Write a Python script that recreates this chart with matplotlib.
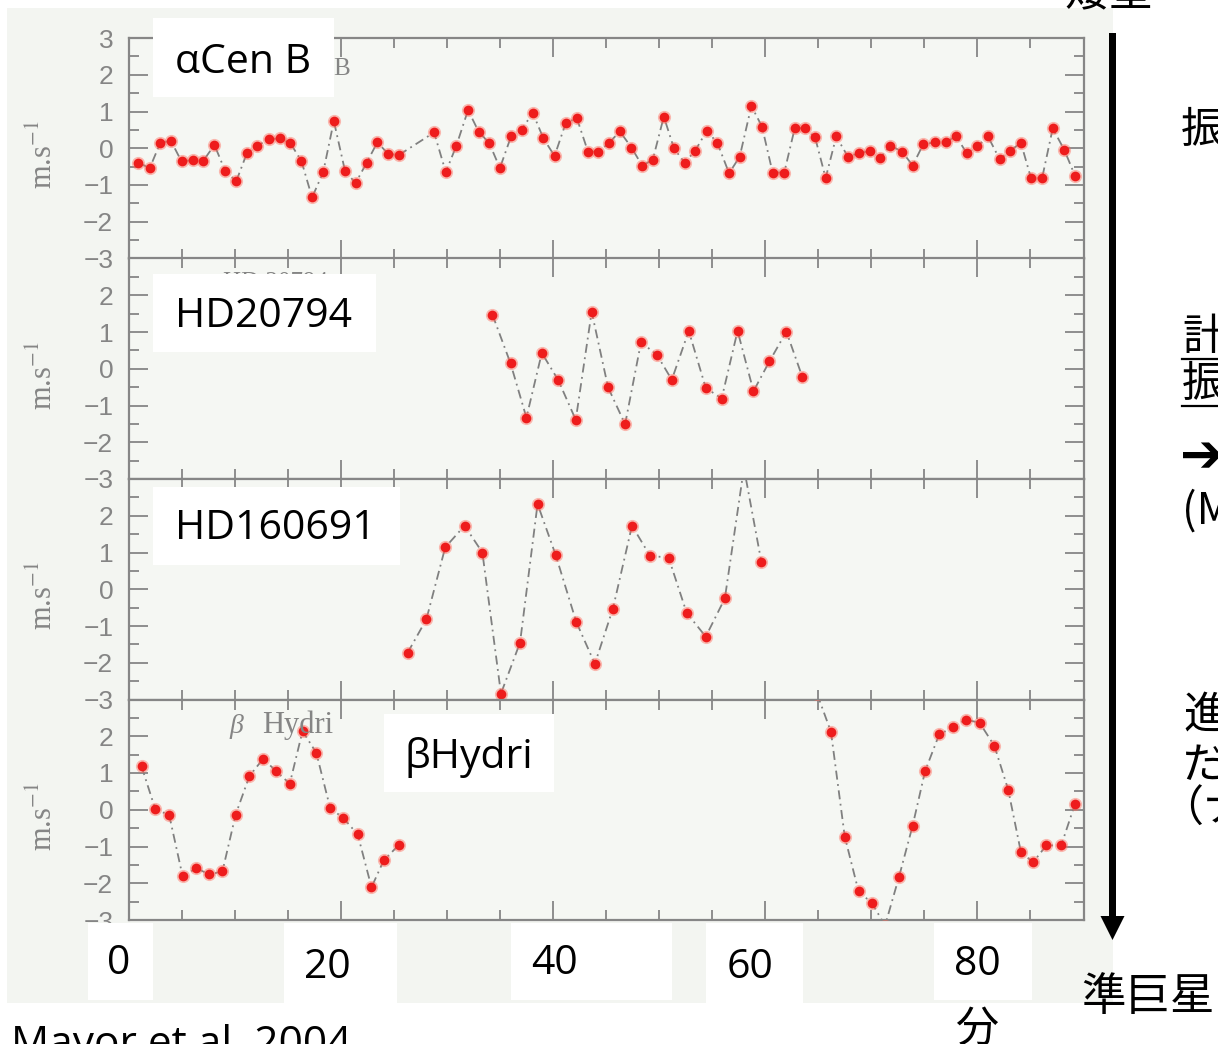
import numpy as np
import matplotlib
matplotlib.use("Agg")
import matplotlib.pyplot as plt
from matplotlib.patches import Rectangle, Polygon
from matplotlib.ticker import MultipleLocator, FixedLocator, FixedFormatter

plt.rcParams["mathtext.fontset"] = "stix"

# ---- radial-velocity time series (minutes, m/s) ----
acen_t = [0.9, 2.0, 3.0, 4.0, 5.0, 6.05, 7.05, 8.1, 9.1, 10.15,
          11.15, 12.15, 13.2, 14.25, 15.25, 16.3, 17.3, 18.35, 19.35, 20.4,
          21.4, 22.45, 23.45, 24.5, 25.5,
          28.8, 29.9, 30.9, 32.0, 33.0, 34.0, 35.0, 36.05, 37.05, 38.1,
          39.1, 40.15, 41.2, 42.25, 43.3, 44.25, 45.25, 46.3, 47.4, 48.4,
          49.4, 50.45, 51.4, 52.4, 53.4, 54.5, 55.5, 56.6, 57.6, 58.7,
          59.7, 60.7, 61.8, 62.8, 63.75, 64.7, 65.7, 66.7, 67.8, 68.8,
          69.9, 70.8, 71.8, 72.9, 73.9, 74.9, 76.0, 77.0, 78.0, 79.0,
          80.0, 81.0, 82.1, 83.1, 84.1, 85.05, 86.1, 87.1, 88.2, 89.2]
acen_v = [-0.39, -0.54, 0.15, 0.20, -0.36, -0.32, -0.34, 0.09, -0.61, -0.90,
          -0.14, 0.07, 0.24, 0.27, 0.14, -0.35, -1.34, -0.65, 0.74, -0.61,
          -0.95, -0.39, 0.16, -0.16, -0.18,
          0.43, -0.65, 0.07, 1.04, 0.45, 0.14, -0.54, 0.32, 0.51, 0.96,
          0.27, -0.21, 0.68, 0.82, -0.09, -0.09, 0.13, 0.46, 0.02, -0.47,
          -0.32, 0.86, 0.0, -0.39, -0.07, 0.48, 0.14, -0.68, -0.23, 1.15,
          0.59, -0.66, -0.66, 0.56, 0.54, 0.30, -0.81, 0.32, -0.23, -0.14,
          -0.07, -0.27, 0.07, -0.09, -0.47, 0.11, 0.16, 0.16, 0.33, -0.14,
          0.05, 0.32, -0.30, -0.07, 0.15, -0.81, -0.81, 0.54, -0.05, -0.75]

hd20794_t = [34.3, 36.0, 37.5, 38.95, 40.5, 42.15, 43.65, 45.2, 46.8, 48.3,
             49.8, 51.2, 52.8, 54.4, 55.9, 57.4, 58.9, 60.4, 62.0, 63.5]
hd20794_v = [1.47, 0.15, -1.33, 0.43, -0.31, -1.39, 1.55, -0.51, -1.51, 0.72,
             0.38, -0.30, 1.03, -0.52, -0.81, 1.03, -0.61, 0.20, 1.01, -0.22]

hd160691_t = [26.3, 28.07, 29.85, 31.67, 33.35, 35.1, 36.9, 38.55, 40.26, 42.2,
              43.95, 45.65, 47.45, 49.15, 50.9, 52.6, 54.4, 56.2, 58.0, 59.65]
hd160691_v = [-1.73, -0.82, 1.14, 1.73, 1.0, -2.84, -1.45, 2.32, 0.93, -0.89,
              -2.03, -0.53, 1.73, 0.91, 0.86, -0.64, -1.29, -0.25, 3.3, 0.73]

bhyd_t = [1.23, 2.53, 3.83, 5.1, 6.4, 7.6, 8.85, 10.1, 11.4, 12.7,
          13.9, 15.2, 16.4, 17.7, 19.0, 20.25, 21.6, 22.9, 24.05, 25.5,
          64.9, 66.2, 67.5, 68.8, 70.06, 71.3, 72.6, 73.9, 75.07, 76.4,
          77.7, 78.9, 80.2, 81.6, 82.9, 84.1, 85.25, 86.5, 87.9, 89.2]
bhyd_v = [1.18, 0.01, -0.14, -1.81, -1.59, -1.76, -1.68, -0.13, 0.92, 1.39,
          1.05, 0.71, 2.14, 1.55, 0.05, -0.23, -0.67, -2.11, -1.38, -0.95,
          3.15, 2.12, -0.73, -2.22, -2.54, -3.15, -1.84, -0.43, 1.05, 2.05,
          2.24, 2.45, 2.37, 1.74, 0.55, -1.15, -1.43, -0.97, -0.97, 0.16]

star_names = ["αCen B", "HD20794", "HD160691", "βHydri"]
catalog_names = ["α Cen B", "HD 20794", None, "Hydri"]
x_tick_labels = ["0", "20", "40", "60", "80"]

series = [(acen_t, acen_v), (hd20794_t, hd20794_v),
          (hd160691_t, hd160691_v), (bhyd_t, bhyd_v)]

# ---- styling ----
W, H = 1218, 1044
BG = "#f3f5f1"
AX_BG = "#f5f7f3"
GRAY = "#868686"
GRAY_TXT = "#858585"
LATIN = ["Open Sans", "DejaVu Sans"]
CJK = ["Noto Sans CJK JP", "DejaVu Sans"]

fig = plt.figure(figsize=(W / 100, H / 100), dpi=100, facecolor="white")


def frac(x0, y0, x1, y1):
    return [x0 / W, 1 - y1 / H, (x1 - x0) / W, (y1 - y0) / H]


# backdrop of the chart image
bg = fig.add_axes([0, 0, 1, 1], zorder=-2)
bg.set_xlim(0, W)
bg.set_ylim(H, 0)
bg.axis("off")
bg.add_patch(Rectangle((7, 8), 1113 - 7, 1003 - 8, color=BG, lw=0))

LEFT, RIGHT = 128.5, 1083.5
TOP, BOTTOM = 38.0, 920.0
ph = (BOTTOM - TOP) / 4

axes = []
for i, (t, v) in enumerate(series):
    y0 = TOP + i * ph
    ax = fig.add_axes(frac(LEFT, y0, RIGHT, y0 + ph), zorder=0)
    ax.set_facecolor(AX_BG)
    ax.set_xlim(0, 90)
    ax.set_ylim(-3, 3)
    ax.xaxis.set_major_locator(MultipleLocator(20))
    ax.xaxis.set_minor_locator(MultipleLocator(5))
    ax.yaxis.set_major_locator(FixedLocator(range(-3, 4)))
    ax.yaxis.set_minor_locator(MultipleLocator(0.5))
    labels = ["\u2212%d" % -k if k < 0 else "%d" % k for k in range(-3, 4)]
    if i > 0:
        labels[-1] = ""
    ax.yaxis.set_major_formatter(FixedFormatter(labels))
    ax.tick_params(which="both", direction="in", top=True, right=True,
                   color=GRAY, width=1.3, labelbottom=False)
    ax.tick_params(which="major", length=14)
    ax.tick_params(which="minor", length=7)
    ax.tick_params(axis="y", labelsize=19, labelcolor=GRAY_TXT, pad=11)
    for lab in ax.get_yticklabels():
        lab.set_fontfamily("Liberation Sans")
    for s in ax.spines.values():
        s.set_color(GRAY)
        s.set_linewidth(1.6)
    ax.set_ylabel("m.s$^{-1}$", fontfamily="Liberation Serif", fontsize=22,
                  color=GRAY_TXT)
    ax.yaxis.set_label_coords(-0.0725, 0.47)

    t = np.asarray(t)
    v = np.asarray(v)
    cuts = np.where(np.diff(t) > 10)[0] + 1
    for ts, vs in zip(np.split(t, cuts), np.split(v, cuts)):
        ax.plot(ts, vs, color="#808080", lw=1.3,
                ls=(0, (5, 2.5, 1, 2.5)), zorder=2)
    ax.plot(t, v, ls="none", marker="o", ms=9.5, color="#ff6a5a",
            alpha=0.45, mew=0, zorder=3)
    ax.plot(t, v, ls="none", marker="o", ms=7.0, color="#ee1c1c",
            mew=0, zorder=4)
    axes.append(ax)

# ---- overlay: slide annotations ----
ov = fig.add_axes([0, 0, 1, 1], zorder=5)
ov.set_xlim(0, W)
ov.set_ylim(H, 0)
ov.axis("off")
ov.patch.set_alpha(0)

# original catalogue names printed in the chart
ov.text(351, 75, catalog_names[0], fontfamily="Liberation Serif", fontsize=18,
        color=GRAY_TXT, ha="right", va="baseline", zorder=1)
ov.text(223, 289, catalog_names[1], fontfamily="Liberation Serif", fontsize=18,
        color=GRAY_TXT, ha="left", va="baseline", zorder=1)
ov.text(229, 733, "β", fontfamily="Liberation Serif", fontsize=20,
        color=GRAY_TXT, ha="left", va="baseline", zorder=1, style="italic")
ov.text(262, 733, catalog_names[3], fontfamily="Liberation Serif", fontsize=22,
        color=GRAY_TXT, ha="left", va="baseline", zorder=1)

name_boxes = [(153, 18, 334, 97), (153, 274, 376, 352),
              (153, 487, 400, 565), (384, 714, 554, 792)]
name_pos = [(175, 63), (175, 317), (175, 529), (405, 757)]
for name, (x0, y0, x1, y1), (tx, ty) in zip(star_names, name_boxes, name_pos):
    ov.add_patch(Rectangle((x0, y0), x1 - x0, y1 - y0, color="white", lw=0, zorder=2))
    ov.text(tx, ty, name, fontfamily=LATIN, fontsize=29.5, color="black",
            ha="left", va="center", zorder=3)

tick_boxes = [(88, 923, 153, 1000), (284, 923, 397, 1003), (511, 923, 672, 1000),
              (706, 923, 803, 1003), (934, 923, 1032, 1000)]
tick_pos = [(119, 964), (327, 968), (554, 964), (750, 968), (977, 965)]
for lab, (x0, y0, x1, y1), (tx, ty) in zip(x_tick_labels, tick_boxes, tick_pos):
    ov.add_patch(Rectangle((x0, y0), x1 - x0, y1 - y0, color="white", lw=0, zorder=2))
    ov.text(tx, ty, lab, fontfamily=LATIN, fontsize=29.5, color="black",
            ha="center", va="center", zorder=3)
ov.text(977, 1030, "分", fontfamily=CJK, fontsize=31, color="black",
        ha="center", va="center", zorder=3)

ov.text(11, 1056, "Mayor et al. 2004", fontfamily=LATIN, fontsize=30.5,
        color="black", ha="left", va="baseline", zorder=3)

# evolution arrow: dwarf -> subgiant
ov.add_patch(Rectangle((1109, 33), 7, 917 - 33, color="black", lw=0, zorder=3))
ov.add_patch(Polygon([(1100.5, 916), (1124.5, 916), (1112.5, 940)],
                     closed=True, color="black", lw=0, zorder=3))
ov.text(1064, 5, "矮星", fontfamily=CJK, fontsize=32, color="black",
        ha="left", va="baseline", zorder=3)
ov.text(1081, 997, "準巨星", fontfamily=CJK, fontsize=32, color="black",
        ha="left", va="center", zorder=3)

# side notes
side = [("振", 1181, 131, False), ("計", 1182, 338, True), ("振", 1182, 385, True),
        ("(M", 1182, 512, False),
        ("進", 1183, 716, False), ("だ", 1183, 766, False), ("（ナ", 1160, 810, False)]
for s, x, y, ul in side:
    ov.text(x, y, s, fontfamily=CJK, fontsize=31, color="black",
            ha="left", va="center", zorder=3)
    if ul:
        ov.plot([x, W + 5], [y + 21, y + 21], color="black", lw=1.6, zorder=3)
ov.text(1180, 457, "➔", fontfamily=["DejaVu Sans"], fontsize=38, weight="bold",
        color="black", ha="left", va="center", zorder=3)

fig.savefig("out.png", dpi=100, facecolor="white")
